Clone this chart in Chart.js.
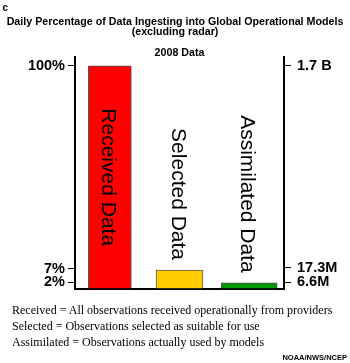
<!DOCTYPE html>
<html>
<head>
<meta charset="utf-8">
<script src="https://cdn.jsdelivr.net/npm/chart.js@4"></script>
<style>
    html, body { margin: 0; padding: 0; background: #fff; }
    #wrap { position: relative; width: 350px; height: 363px; overflow: hidden; }
    #wrap canvas { position: absolute; left: 0; top: 0; }
    .panel { position: absolute; left: 2.5px; top: 2.5px; font: bold 10px "Liberation Sans", Arial, sans-serif; line-height: 10px; }
    .notes { position: absolute; left: 12px; top: 301.5px; font: 12px "Liberation Serif", "Times New Roman", serif; line-height: 16px; white-space: nowrap; }
    .credit { position: absolute; right: 3px; top: 353px; font: bold 7.5px "Liberation Sans", Arial, sans-serif; line-height: 10px; }
</style>
</head>
<body>
<div id="wrap">
    <canvas id="ingestChart" width="350" height="363"></canvas>
    <div class="panel">c</div>
    <div class="notes">
        <div>Received = All observations received operationally from providers</div>
        <div>Selected = Observations selected as suitable for use</div>
        <div>Assimilated = Observations actually used by models</div>
    </div>
    <div class="credit">NOAA/NWS/NCEP</div>
</div>
<script>
// bar values, read against the left (percent) axis
const categories = ['Received Data', 'Selected Data', 'Assimilated Data'];
const percentValues = [100, 8.3, 2.6];

// tick positions and their printed labels (the picture is schematic)
const leftTickValues = [2.8, 8.8, 100];
const leftTickLabels = ['2%', '7%', '100%'];
const rightTickValues = [2.8, 9.3, 100];
const rightTickLabels = ['6.6M', '17.3M', '1.7 B'];

const barColors = ['#ff0000', '#ffcc00', '#009900'];
const barWidths = [43, 47, 56];

Chart.defaults.font.family = '"Liberation Sans", Arial, sans-serif';
Chart.defaults.color = '#000';

const barTextPlugin = {
    id: 'barText',
    afterDatasetsDraw(chart) {
        const ctx = chart.ctx;
        ctx.save();
        ctx.font = '21px "Liberation Sans", Arial, sans-serif';
        ctx.fillStyle = '#000';
        ctx.textAlign = 'center';
        ctx.textBaseline = 'middle';
        categories.forEach((name, i) => {
            const bar = chart.getDatasetMeta(i).data[i];
            const w = ctx.measureText(name).width;
            const h = bar.base - bar.y;
            // tall bar: text inside; short bar: text stands above it
            const cy = h > w + 20 ? (bar.y + bar.base) / 2 : bar.y - 10 - w / 2;
            ctx.save();
            ctx.translate(bar.x - 2, cy);
            ctx.rotate(Math.PI / 2);
            ctx.fillText(name, 0, 0);
            ctx.restore();
        });
        ctx.restore();
    }
};

function axisOptions(position, tickValues, tickLabels, width, pad) {
    return {
        type: 'linear',
        position: position,
        min: 0,
        max: 104,
        afterBuildTicks: scale => { scale.ticks = tickValues.map(v => ({ value: v })); },
        afterFit: scale => { scale.width = width; },
        ticks: {
            autoSkip: false,
            padding: pad,
            color: '#000',
            font: { size: 14.5, weight: 'bold' },
            callback: (value, index) => tickLabels[index]
        },
        grid: { drawOnChartArea: false, drawTicks: true, tickLength: 7, color: '#000', lineWidth: 1 },
        border: { display: true, color: '#000', width: 2 }
    };
}

document.addEventListener('DOMContentLoaded', () => {
    const ctx = document.getElementById('ingestChart').getContext('2d');
    new Chart(ctx, {
        type: 'bar',
        data: {
            labels: categories,
            datasets: categories.map((name, i) => ({
                label: name,
                data: categories.map((_, j) => (j === i ? percentValues[i] : null)),
                backgroundColor: barColors[i],
                borderColor: '#555',
                borderWidth: 1,
                barThickness: barWidths[i],
                skipNull: true
            }))
        },
        options: {
            responsive: false,
            animation: false,
            layout: { padding: { top: 0, left: 0, right: 0, bottom: 74.5 } },
            plugins: {
                legend: { display: false },
                tooltip: { enabled: false },
                title: {
                    display: true,
                    text: ['Daily Percentage of Data Ingesting into Global Operational Models', '(excluding radar)'],
                    color: '#000',
                    font: { size: 10.7, weight: 'bold', lineHeight: 0.953 },
                    padding: { top: 16.7, bottom: 0 }
                },
                subtitle: {
                    display: true,
                    fullSize: false,
                    text: '2008 Data',
                    color: '#000',
                    font: { size: 10.7, weight: 'bold', lineHeight: 0.654 },
                    padding: { top: 12.9, bottom: 0 }
                }
            },
            scales: {
                x: {
                    ticks: { display: false },
                    grid: { display: true, drawOnChartArea: false, drawTicks: false },
                    border: { display: true, color: '#000', width: 2 }
                },
                y: axisOptions('left', leftTickValues, leftTickLabels, 75, 3),
                y1: axisOptions('right', rightTickValues, rightTickLabels, 66, 6)
            }
        },
        plugins: [barTextPlugin]
    });
});
</script>
</body>
</html>
